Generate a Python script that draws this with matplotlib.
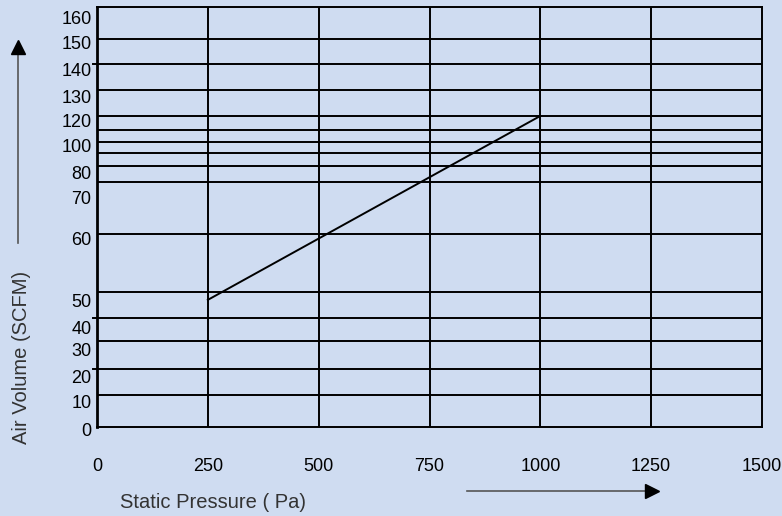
import numpy as np
import matplotlib
matplotlib.use("Agg")
import matplotlib.pyplot as plt
from matplotlib.lines import Line2D
from matplotlib.transforms import ScaledTranslation

# data ---------------------------------------------------------------
pressure = [250, 1000]          # Pa
air_volume = [47, 120]          # SCFM

x_ticks = [0, 250, 500, 750, 1000, 1250, 1500]
y_ticks = [0, 10, 20, 30, 40, 50, 60, 70, 80, 100, 120, 130, 140, 150, 160]
y_grid = [10, 20, 30, 40, 50, 60, 70, 80, 90, 100, 110, 120, 130, 140, 150]
y_stubs = [140, 40, 20]

# the volume axis is not evenly spaced: value -> height (0..160) on screen
scale_vals = [0, 10, 20, 30, 40, 50, 60, 70, 80, 90, 100, 110, 120, 130, 140, 150, 160]
scale_pos = [0, 12.2, 22.1, 32.8, 41.5, 51.4, 73.5, 93.3, 99.4, 104.4, 108.6,
             113.1, 118.5, 128.4, 138.3, 147.8, 160]

# labels sit a little below their lines (pixels, same order as y_ticks)
label_drop = [3, 7, 8, 9, 9, 8, 4, 15, 6, 4, 5, 7, 6, 3, 10]

def fwd(v):
  return np.interp(v, scale_vals, scale_pos)

def inv(p):
  return np.interp(p, scale_pos, scale_vals)

bg = '#cfdcf1'
plt.rcParams['font.family'] = ['Liberation Sans', 'DejaVu Sans']

fig = plt.figure(figsize=(7.82, 5.16), dpi=100, facecolor=bg)
ax = fig.add_axes([97/782, 89/516, 665/782, 420/516], facecolor=bg)
ax.set_yscale('function', functions=(fwd, inv))
ax.set_xlim(0, 1500)
ax.set_ylim(0, 160)

# grid
for v in y_grid:
  ax.axhline(v, color='black', lw=1.4)
for v in y_stubs:
  ax.axhline(v, xmin=-0.006, xmax=0, color='black', lw=1.4, clip_on=False)
for x in x_ticks[1:-1]:
  ax.axvline(x, color='black', lw=1.4)

# curve
ax.plot(pressure, air_volume, color='black', lw=1.4)

for s in ax.spines.values():
  s.set_linewidth(1.4)
ax.spines['left'].set_linewidth(2)

ax.set_xticks(x_ticks)
ax.set_yticks(y_ticks)
ax.minorticks_off()
ax.tick_params(axis='both', length=0, labelsize=13, colors='black')
ax.tick_params(axis='x', pad=22)
ax.tick_params(axis='y', pad=4)
for lab, d in zip(ax.get_yticklabels(), label_drop):
  lab.set_transform(lab.get_transform() + ScaledTranslation(0, -d/100, fig.dpi_scale_trans))

# axis titles
fig.text(22/782, 159/516, 'Air Volume (SCFM)', rotation=90, ha='center', va='center',
         fontsize=14.5, color='#333333')
fig.text(120/782, 13/516, 'Static Pressure ( Pa)', ha='left', va='center',
         fontsize=14.5, color='#333333')

# arrows
fig.add_artist(Line2D([18/782, 18/782], [(516-243)/516, (516-52)/516],
                      transform=fig.transFigure, color='#555555', lw=1.2))
fig.add_artist(Line2D([18/782], [(516-47)/516], transform=fig.transFigure,
                      marker='^', ms=10, color='black', linestyle='none'))
fig.add_artist(Line2D([467/782, 648/782], [25/516, 25/516],
                      transform=fig.transFigure, color='#555555', lw=1.2))
fig.add_artist(Line2D([652/782], [25/516], transform=fig.transFigure,
                      marker='>', ms=10, color='black', linestyle='none'))

fig.savefig('out.png', dpi=100, facecolor=bg)
